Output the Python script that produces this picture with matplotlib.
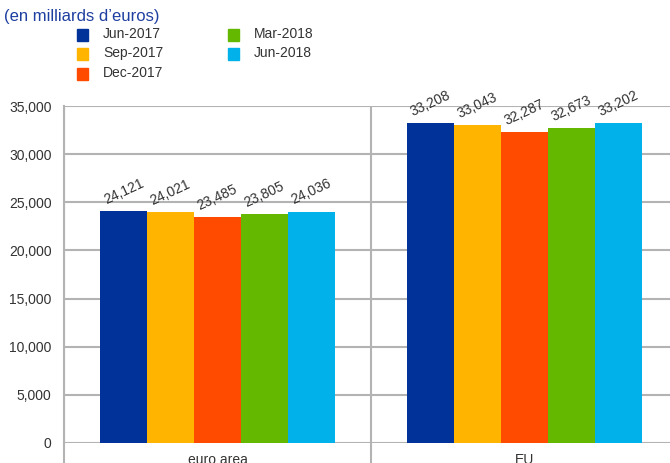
import matplotlib
matplotlib.use("Agg")
import matplotlib.pyplot as plt
import numpy as np
from matplotlib.patches import Rectangle

categories = ["euro area", "EU"]
series_names = ["Jun-2017", "Sep-2017", "Dec-2017", "Mar-2018", "Jun-2018"]
values = {
    "Jun-2017": [24121, 33208],
    "Sep-2017": [24021, 33043],
    "Dec-2017": [23485, 32287],
    "Mar-2018": [23805, 32673],
    "Jun-2018": [24036, 33202],
}
colors = ["#003299", "#FFB400", "#FF4B00", "#65B800", "#00B1EA"]
yticks = [0, 5000, 10000, 15000, 20000, 25000, 30000, 35000]
title = "(en milliards d\u2019euros)"

plt.rcParams['font.family'] = ['Liberation Sans', 'DejaVu Sans']

W, H = 670, 463
fig = plt.figure(figsize=(W / 100, H / 100), dpi=100)
ax = fig.add_axes([64 / W, 20 / H, 614 / W, 337 / H])

grid_c = "#b3b3b3"
txt_c = "#333333"
n = len(series_names)
bw = 0.153
x = np.arange(len(categories))
for i, (name, c) in enumerate(zip(series_names, colors)):
    offs = (i - (n - 1) / 2) * bw
    bars = ax.bar(x + offs, values[name], width=bw, color=c, zorder=3)
    for b, v in zip(bars, values[name]):
        ax.annotate(f"{v:,}", (b.get_x() + b.get_width() / 2, v),
                    xytext=(0, 3), textcoords="offset points",
                    ha="center", va="bottom", rotation=25,
                    fontsize=10, color=txt_c)

ax.set_xlim(-0.5, 1.5)
ax.set_ylim(0, 35000)
ax.set_yticks(yticks)
ax.set_yticklabels([f"{t:,}" for t in yticks], fontsize=10, color=txt_c)
ax.yaxis.grid(True, color=grid_c, lw=1.5, zorder=0)
ax.tick_params(axis="y", length=0, pad=9)

ax.set_xticks(x)
ax.set_xticklabels(categories, fontsize=10, color=txt_c)
ax.tick_params(axis="x", which="major", length=0, pad=7)
ax.set_xticks([-0.5, 0.5, 1.5], minor=True)
ax.tick_params(axis="x", which="minor", length=15, width=1.5, color=grid_c)
ax.xaxis.grid(True, which="minor", color=grid_c, lw=1.5, zorder=0)

for s in ["top", "right", "bottom"]:
    ax.spines[s].set_visible(False)
ax.spines["left"].set_color(grid_c)
ax.spines["left"].set_linewidth(1.5)

fig.text(4 / W, 1 - 17 / H, title, fontsize=12, color="#1F3FA0",
         ha="left", va="center")

# legend
leg_pos = [(77, 35), (77, 54), (77, 74), (228, 35), (228, 54)]
for (lx, ly), name, c in zip(leg_pos, series_names, colors):
    fig.patches.append(Rectangle((lx / W, 1 - (ly + 6) / H), 11 / W, 12 / H,
                                 transform=fig.transFigure, color=c))
    fig.text((lx + 26) / W, 1 - (ly - 1) / H, name, fontsize=10,
             color=txt_c, ha="left", va="center")

fig.savefig("out.png", dpi=100)
